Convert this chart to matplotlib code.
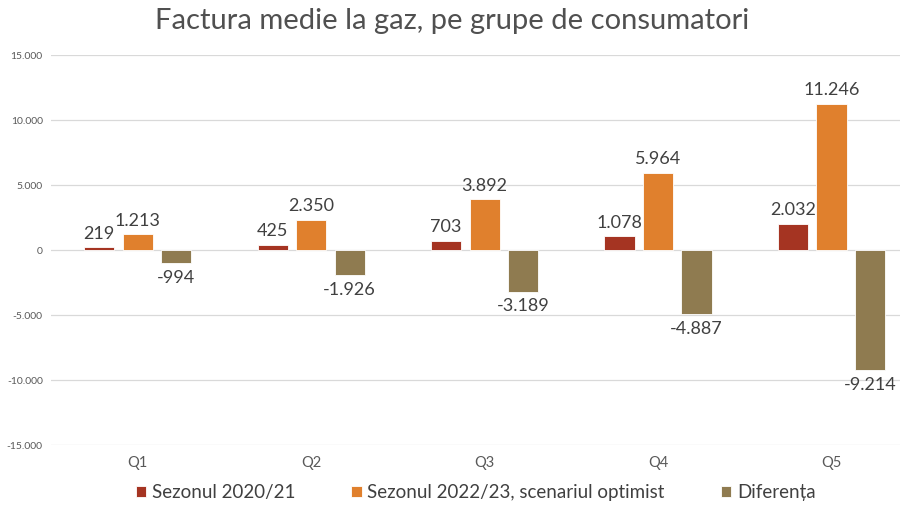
import matplotlib
matplotlib.use("Agg")
import matplotlib.pyplot as plt
import numpy as np
from matplotlib.ticker import FuncFormatter

categories = ["Q1", "Q2", "Q3", "Q4", "Q5"]
sezon_2020 = [219, 425, 703, 1078, 2032]
sezon_2022 = [1213, 2350, 3892, 5964, 11246]
diferenta = [-994, -1926, -3189, -4887, -9214]
series_names = ["Sezonul 2020/21", "Sezonul 2022/23, scenariul optimist", "Diferența"]
colors = ["#A53422", "#E0802D", "#8F7B50"]

plt.rcParams['font.family'] = ['Lato', 'DejaVu Sans']

def fmt(v):
    s = f"{abs(int(v)):,}".replace(",", ".")
    return ("-" if v < 0 else "") + s

fig = plt.figure(figsize=(9.04, 5.05), dpi=100)
ax = fig.add_axes([0.0565, 0.1188, 0.939, 0.772])

x = np.arange(len(categories))
w = 0.174
step = 0.222
data = [sezon_2020, sezon_2022, diferenta]
for i, (vals, c, name) in enumerate(zip(data, colors, series_names)):
    bars = ax.bar(x + (i - 1) * step, vals, width=w, color=c, label=name,
                  edgecolor="white", linewidth=0.6, zorder=3)
    for b, v in zip(bars, vals):
        xc = b.get_x() + b.get_width() / 2
        if v >= 0:
            ax.annotate(fmt(v), (xc, v), xytext=(0, 4), textcoords="offset points",
                        ha="center", va="bottom", fontsize=13, color="#404040")
        else:
            ax.annotate(fmt(v), (xc, v), xytext=(0, -5), textcoords="offset points",
                        ha="center", va="top", fontsize=13, color="#404040")

ax.set_xlim(-0.5, 4.395)
ax.set_ylim(-15000, 15000)
ax.set_yticks(np.arange(-15000, 15001, 5000))
ax.yaxis.set_major_formatter(FuncFormatter(lambda v, p: fmt(v)))
ax.set_xticks(x)
ax.set_xticklabels(categories)
ax.tick_params(axis='y', length=0, labelsize=7.5, labelcolor="#595959", pad=6)
ax.tick_params(axis='x', length=0, labelsize=10.5, labelcolor="#595959", pad=8)
ax.grid(axis='y', color="#d9d9d9", linewidth=0.9, zorder=0)
for s in ax.spines.values():
    s.set_visible(False)

fig.suptitle("Factura medie la gaz, pe grupe de consumatori", y=0.985,
             fontsize=21, color="#505050")

ax.legend(loc="center", bbox_to_anchor=(0.5, -0.123), ncol=3, frameon=False,
          fontsize=13.5, handlelength=0.55, handleheight=0.55, handletextpad=0.3,
          columnspacing=3.0, labelcolor="#404040")

fig.savefig("out.png", dpi=100)
